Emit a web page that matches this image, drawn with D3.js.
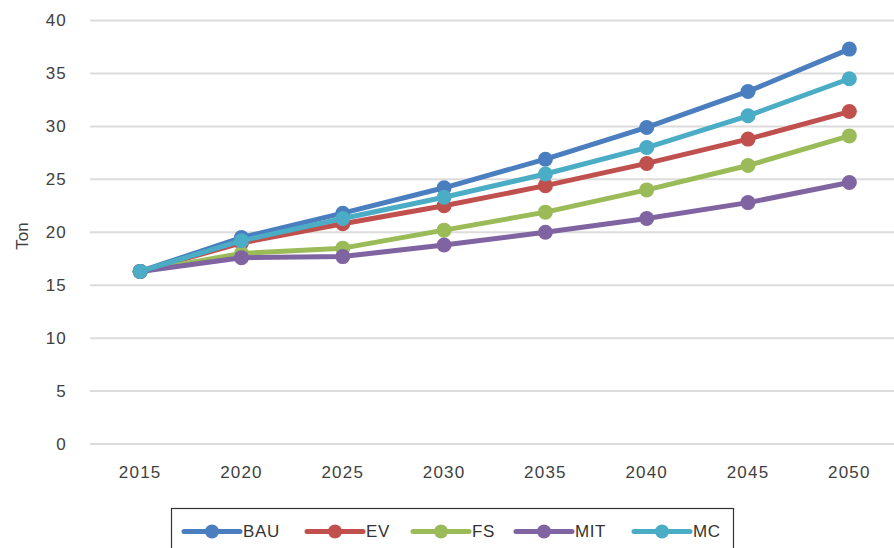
<!DOCTYPE html>
<html>
<head>
<meta charset="utf-8">
<script src="https://cdn.jsdelivr.net/npm/d3@7"></script>
<style>
  html, body { margin: 0; padding: 0; background: #fff; overflow: hidden; }
  svg { display: block; font-family: "Liberation Sans", Arial, sans-serif; }
</style>
</head>
<body>
<div id="chart"></div>
<script>
  // Categories and series
  const years = ['2015', '2020', '2025', '2030', '2035', '2040', '2045', '2050'];
  const yTicks = [0, 5, 10, 15, 20, 25, 30, 35, 40];

  const bau = [16.3, 19.5, 21.8, 24.2, 26.9, 29.9, 33.3, 37.3];
  const ev  = [16.3, 19.0, 20.8, 22.5, 24.4, 26.5, 28.8, 31.4];
  const fs  = [16.3, 18.0, 18.5, 20.2, 21.9, 24.0, 26.3, 29.1];
  const mit = [16.3, 17.6, 17.7, 18.8, 20.0, 21.3, 22.8, 24.7];
  const mc  = [16.3, 19.2, 21.3, 23.3, 25.5, 28.0, 31.0, 34.5];

  const seriesNames = ['BAU', 'EV', 'FS', 'MIT', 'MC'];
  const seriesColors = ['#4a7ebf', '#c0504d', '#9bbb59', '#8064a2', '#4bacc6'];
  const seriesValues = [bau, ev, fs, mit, mc];

  const W = 894, H = 548;

  const svg = d3.select('#chart').append('svg')
    .attr('width', W)
    .attr('height', H);

  const x = d3.scaleBand().domain(years).range([89.5, 900]);
  const y = d3.scaleLinear().domain([0, 40]).range([444, 20.5]);

  // gridlines
  svg.append('g')
    .selectAll('line')
    .data(yTicks)
    .join('line')
    .attr('x1', 90).attr('x2', W)
    .attr('y1', d => y(d)).attr('y2', d => y(d))
    .attr('stroke', '#dcdcdc')
    .attr('stroke-width', 2);

  // y axis labels
  const yAxis = svg.append('g')
    .attr('transform', 'translate(67,0)')
    .call(d3.axisLeft(y).tickValues(yTicks).tickSize(0).tickPadding(0));
  yAxis.select('.domain').remove();
  yAxis.selectAll('text')
    .attr('font-size', 17)
    .attr('letter-spacing', 1.2)
    .attr('fill', '#404040')
    .attr('font-family', '"Liberation Sans", Arial, sans-serif');

  // x axis labels
  const xAxis = svg.append('g')
    .attr('transform', 'translate(0,466)')
    .call(d3.axisBottom(x).tickSize(0).tickPadding(0));
  xAxis.select('.domain').remove();
  xAxis.selectAll('text')
    .attr('font-size', 17)
    .attr('letter-spacing', 1.2)
    .attr('fill', '#404040')
    .attr('font-family', '"Liberation Sans", Arial, sans-serif');

  // y title
  svg.append('text')
    .attr('transform', 'translate(28,236) rotate(-90)')
    .attr('text-anchor', 'middle')
    .attr('font-size', 17)
    .attr('fill', '#404040')
    .text('Ton');

  const line = d3.line()
    .x((d, i) => x(years[i]) + x.bandwidth() / 2)
    .y(d => y(d));

  seriesValues.forEach(function (vals, k) {
    const g = svg.append('g');
    g.append('path')
      .datum(vals)
      .attr('d', line)
      .attr('fill', 'none')
      .attr('stroke', seriesColors[k])
      .attr('stroke-width', 5)
      .attr('stroke-linejoin', 'round')
      .attr('stroke-linecap', 'round');
    g.selectAll('circle')
      .data(vals)
      .join('circle')
      .attr('cx', (d, i) => x(years[i]) + x.bandwidth() / 2)
      .attr('cy', d => y(d))
      .attr('r', 7.5)
      .attr('fill', seriesColors[k]);
  });

  // legend
  const legendX = [184, 307, 413, 516, 634];
  const legend = svg.append('g');
  legend.append('rect')
    .attr('x', 171.5).attr('y', 508.5)
    .attr('width', 562).attr('height', 60)
    .attr('fill', '#fff')
    .attr('stroke', '#333')
    .attr('stroke-width', 1.2);

  seriesNames.forEach(function (name, k) {
    const item = legend.append('g').attr('transform', 'translate(' + legendX[k] + ',531.5)');
    item.append('line')
      .attr('x1', 0).attr('x2', 56)
      .attr('stroke', seriesColors[k])
      .attr('stroke-width', 5)
      .attr('stroke-linecap', 'round');
    item.append('circle')
      .attr('cx', 28).attr('r', 7)
      .attr('fill', seriesColors[k]);
    item.append('text')
      .attr('x', 59)
      .attr('dy', '0.35em')
      .attr('font-size', 17)
      .attr('letter-spacing', 0.6)
      .attr('fill', '#333')
      .text(name);
  });
</script>
</body>
</html>
